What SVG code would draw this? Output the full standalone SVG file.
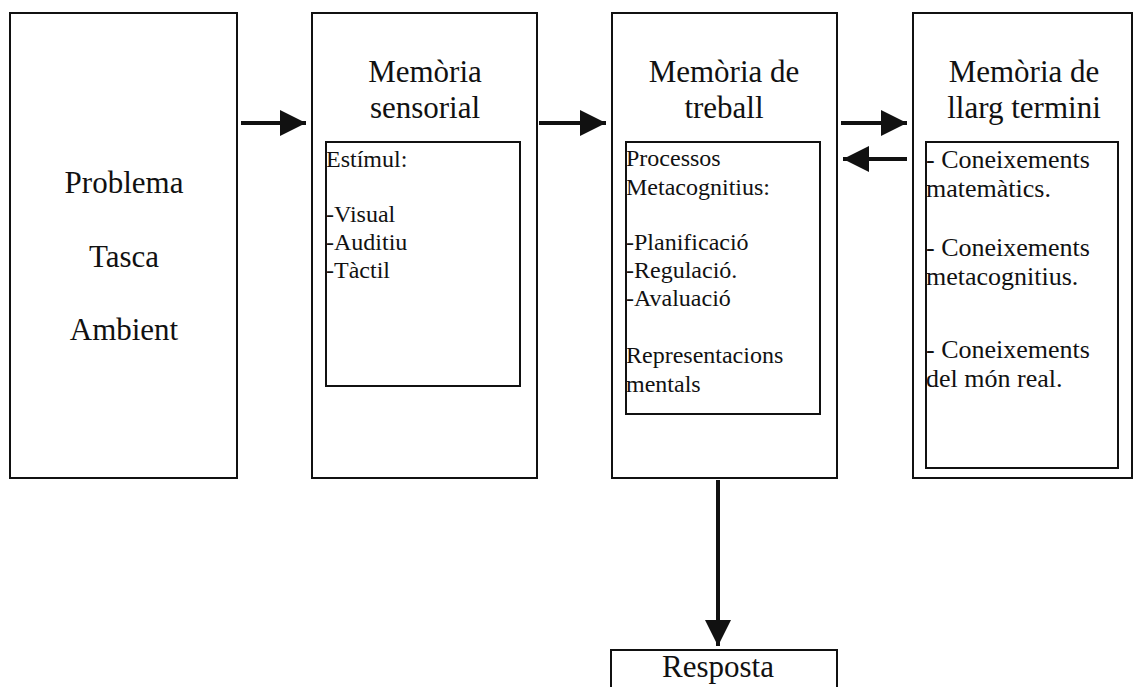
<svg xmlns="http://www.w3.org/2000/svg" width="1136" height="687" viewBox="0 0 1136 687">
  <style>
    .box { fill: #ffffff; stroke: #111111; stroke-width: 2; }
    .inner { fill: #ffffff; stroke: #111111; stroke-width: 2; }
    .title { font-family: "Liberation Serif", "Times New Roman", serif; font-size: 31px; fill: #111111; text-anchor: middle; }
    .body { font-family: "Liberation Serif", "Times New Roman", serif; font-size: 24px; fill: #111111; }
    .body26 { font-family: "Liberation Serif", "Times New Roman", serif; font-size: 26px; fill: #111111; }
    .link { stroke: #111111; stroke-width: 4; fill: none; }
  </style>
  <defs>
    <marker id="head" viewBox="0 0 26 26" refX="26" refY="13" markerWidth="26" markerHeight="26" markerUnits="userSpaceOnUse" orient="auto">
      <path d="M0,0 L26,13 L0,26 Z" fill="#111111"/>
    </marker>
  </defs>
  <rect width="1136" height="687" fill="#ffffff"/>

  <g id="problema">
    <rect class="box" x="10" y="13" width="227" height="465"/>
    <text class="title" x="124" y="193">Problema</text>
    <text class="title" x="124" y="267">Tasca</text>
    <text class="title" x="124" y="340">Ambient</text>
  </g>

  <g id="memoria-sensorial">
    <rect class="box" x="312" y="13" width="225" height="465"/>
    <text class="title" x="425" y="82">Memòria</text>
    <text class="title" x="425" y="118">sensorial</text>
    <rect class="inner" x="326" y="142" width="194" height="244"/>
    <text class="body" x="326" y="167">Estímul:</text>
    <text class="body" x="326" y="222">-Visual</text>
    <text class="body" x="326" y="250">-Auditiu</text>
    <text class="body" x="326" y="278">-Tàctil</text>
  </g>

  <g id="memoria-treball">
    <rect class="box" x="612" y="13" width="225" height="465"/>
    <text class="title" x="724" y="82">Memòria de</text>
    <text class="title" x="724" y="118">treball</text>
    <rect class="inner" x="626" y="142" width="194" height="272"/>
    <text class="body" x="626" y="166">Processos</text>
    <text class="body" x="626" y="195">Metacognitius:</text>
    <text class="body" x="626" y="250">-Planificació</text>
    <text class="body" x="626" y="278">-Regulació.</text>
    <text class="body" x="626" y="306">-Avaluació</text>
    <text class="body" x="626" y="363">Representacions</text>
    <text class="body" x="626" y="392">mentals</text>
  </g>

  <g id="memoria-llarg-termini">
    <rect class="box" x="913" y="13" width="219" height="465"/>
    <text class="title" x="1024" y="82">Memòria de</text>
    <text class="title" x="1024" y="118">llarg termini</text>
    <rect class="inner" x="926" y="142" width="192" height="326"/>
    <text class="body26" x="926" y="168">- Coneixements</text>
    <text class="body26" x="926" y="197">matemàtics.</text>
    <text class="body26" x="926" y="256">- Coneixements</text>
    <text class="body26" x="926" y="285">metacognitius.</text>
    <text class="body26" x="926" y="358">- Coneixements</text>
    <text class="body26" x="926" y="387">del món real.</text>
  </g>

  <g id="resposta">
    <rect class="box" x="611" y="650" width="226" height="60"/>
    <text class="title" x="718" y="677">Resposta</text>
  </g>

  <g id="connectors">
    <line class="link" x1="241" y1="123" x2="306" y2="123" marker-end="url(#head)"/>
    <line class="link" x1="539" y1="123" x2="606" y2="123" marker-end="url(#head)"/>
    <line class="link" x1="841" y1="123" x2="907" y2="123" marker-end="url(#head)"/>
    <line class="link" x1="907" y1="159" x2="843" y2="159" marker-end="url(#head)"/>
    <line class="link" x1="718" y1="480" x2="718" y2="646" marker-end="url(#head)"/>
  </g>
</svg>
